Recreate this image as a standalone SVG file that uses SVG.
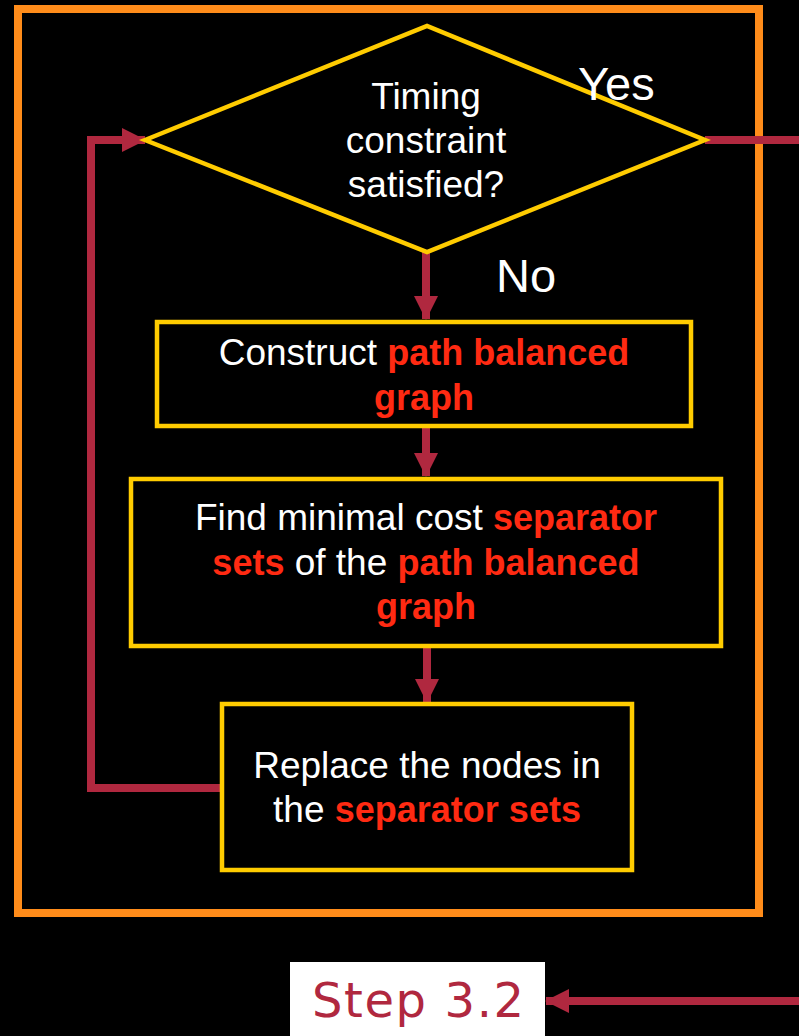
<svg xmlns="http://www.w3.org/2000/svg" width="799" height="1036" viewBox="0 0 799 1036">
  <style>
    .node { fill: none; stroke: #FFCC00; stroke-width: 4.5; }
    .txt { font-family: "Liberation Sans", Arial, sans-serif; font-size: 37px; fill: #FFFFFF; text-anchor: middle; }
    .hi { fill: #FF2A12; font-weight: bold; font-size: 36px; }
    .lbl { font-family: "Liberation Sans", Arial, sans-serif; font-size: 47px; fill: #FFFFFF; }
    .wire { fill: none; stroke: #B0283F; stroke-width: 8; }
  </style>
  <defs>
    <marker id="head" markerUnits="userSpaceOnUse" markerWidth="24" markerHeight="26" refX="23" refY="12" orient="auto">
      <path d="M0,0 L24,12 L0,24 Z" fill="#B0283F"/>
    </marker>
  </defs>

  <rect x="0" y="0" width="799" height="1036" fill="#000000"/>

  <!-- outer frame -->
  <rect id="frame" x="18" y="9" width="741" height="904" fill="none" stroke="#FF8C1A" stroke-width="8"/>

  <!-- connectors -->
  <g id="connectors">
    <line class="wire" x1="705" y1="140" x2="799" y2="140"/>
    <line class="wire" x1="426" y1="252" x2="426" y2="319" marker-end="url(#head)"/>
    <line class="wire" x1="426" y1="426" x2="426" y2="476" marker-end="url(#head)"/>
    <line class="wire" x1="427" y1="646" x2="427" y2="702" marker-end="url(#head)"/>
    <polyline class="wire" points="220,788 91,788 91,140 145,140" marker-end="url(#head)"/>
    <line class="wire" x1="799" y1="1001" x2="546" y2="1001" marker-end="url(#head)"/>
  </g>

  <!-- decision -->
  <g id="decision">
    <polygon class="node" points="145,140 427,26 705,140 427,252"/>
    <text class="txt" font-size="37.5"><tspan x="426" y="109">Timing</tspan><tspan x="426" y="153">constraint</tspan><tspan x="426" y="197">satisfied?</tspan></text>
  </g>

  <g id="label-yes"><text class="lbl" x="578" y="100">Yes</text></g>
  <g id="label-no"><text class="lbl" x="496" y="292">No</text></g>

  <!-- step: construct graph -->
  <g id="construct">
    <rect class="node" x="157" y="322" width="534" height="104"/>
    <text class="txt"><tspan x="424" y="365">Construct <tspan class="hi">path balanced</tspan></tspan><tspan x="424" y="410" class="hi">graph</tspan></text>
  </g>

  <!-- step: find separator sets -->
  <g id="find">
    <rect class="node" x="131" y="479" width="590" height="167"/>
    <text class="txt"><tspan x="426" y="530">Find minimal cost <tspan class="hi">separator</tspan></tspan><tspan x="426" y="575"><tspan class="hi">sets</tspan> of the <tspan class="hi">path balanced</tspan></tspan><tspan x="426" y="619" class="hi">graph</tspan></text>
  </g>

  <!-- step: replace nodes -->
  <g id="replace">
    <rect class="node" x="222" y="704" width="410" height="166"/>
    <text class="txt"><tspan x="427" y="778">Replace the nodes in</tspan><tspan x="427" y="822">the <tspan class="hi">separator sets</tspan></tspan></text>
  </g>

  <!-- step tag -->
  <g id="step">
    <rect x="290" y="962" width="255" height="74" fill="#FFFFFF"/>
    <text x="312" y="1017" font-family="DejaVu Sans, Verdana, sans-serif" font-size="48" letter-spacing="1.6" fill="#B0283F">Step 3.2</text>
  </g>
</svg>
